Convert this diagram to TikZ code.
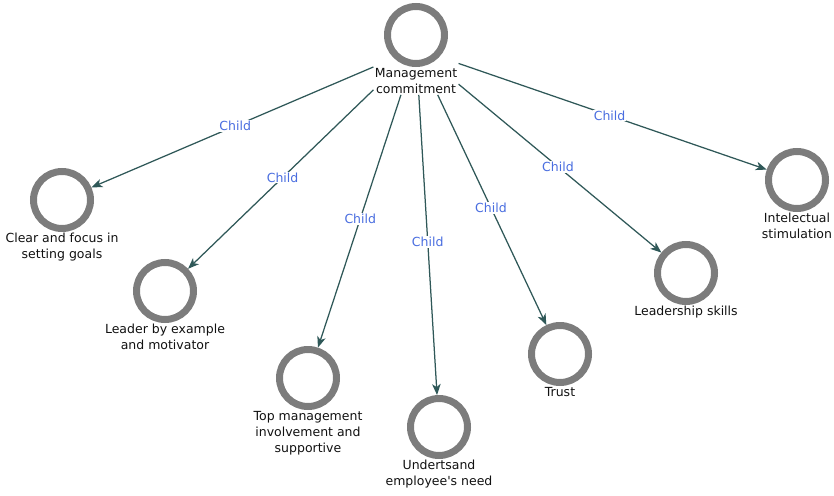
\documentclass[tikz,border=0pt]{standalone}
\usepackage{fontspec}
\setmainfont{DejaVu Sans}
\usepackage{xcolor}
\definecolor{RingGray}{HTML}{7C7C7C}
\definecolor{EdgeTeal}{HTML}{2F5858}
\definecolor{ChildBlue}{HTML}{4A6EE0}
\definecolor{TextDark}{HTML}{111111}
\usetikzlibrary{arrows.meta,positioning,fit}

\begin{document}
\begin{tikzpicture}[
  x=1pt, y=-1pt,
  ring/.style={circle, draw=RingGray, line width=7pt, minimum size=57pt, inner sep=0pt},
  ringlabel/.style={align=center, inner sep=1pt, text=TextDark, font=\fontsize{12.5}{16}\selectfont},
  childlabel/.style={pos=0.49, fill=white, inner sep=1pt, text=ChildBlue, font=\fontsize{12.5}{15}\selectfont},
  arrow/.style={-{Stealth[length=11pt, width=8.5pt, inset=3pt]}, line width=1.25pt, draw=EdgeTeal},
]
\useasboundingbox (0,0) rectangle (834,495);
\node[ring] (mgmt) at (416,35) {};
\node[ringlabel, below=0pt of mgmt] (mgmt-text) {Management\\commitment};
\node[fit=(mgmt)(mgmt-text), inner sep=0pt] (mgmt-all) {};
\node[ring, label={[ringlabel]below:{Clear and focus in\\setting goals}}] (goals) at (62,200) {};
\node[ring, label={[ringlabel]below:{Leader by example\\and motivator}}] (leader) at (165,291) {};
\node[ring, label={[ringlabel]below:{Top management\\involvement and\\supportive}}] (topmgmt) at (308,378) {};
\node[ring, label={[ringlabel]below:{Undertsand\\employee\textquotesingle s need}}] (understand) at (439,427) {};
\node[ring, label={[ringlabel]below:{Trust}}] (trust) at (560,354) {};
\node[ring, label={[ringlabel]below:{Leadership skills}}] (skills) at (686,273) {};
\node[ring, label={[ringlabel]below:{Intelectual\\stimulation}}] (intellect) at (797,180) {};
\draw[arrow] (mgmt-all) -- node[childlabel] {Child} (goals);
\draw[arrow] (mgmt-all) -- node[childlabel] {Child} (leader);
\draw[arrow] (mgmt-all) -- node[childlabel] {Child} (topmgmt);
\draw[arrow] (mgmt-all) -- node[childlabel] {Child} (understand);
\draw[arrow] (mgmt-all) -- node[childlabel] {Child} (trust);
\draw[arrow] (mgmt-all) -- node[childlabel] {Child} (skills);
\draw[arrow] (mgmt-all) -- node[childlabel] {Child} (intellect);
\end{tikzpicture}
\end{document}
